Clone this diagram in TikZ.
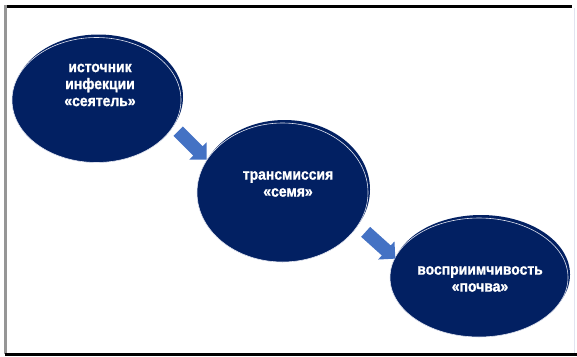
\documentclass[tikz,border=0pt]{standalone}
\usepackage{fontspec}
\setmainfont{Liberation Sans}[FakeStretch=0.9, BoldFeatures={FakeBold=1.2}]
\usepackage{tikz}
\usetikzlibrary{shapes.geometric, shapes.arrows, positioning, calc}
\definecolor{mynavy}{RGB}{2,32,98}
\definecolor{myblue}{RGB}{68,114,196}
\definecolor{myframe}{RGB}{150,150,150}
\definecolor{myedge}{RGB}{225,228,240}
\tikzset{
  stage/.style={ellipse, fill=mynavy, draw=myedge, line width=0.6pt,
    inner sep=0pt},
  stageback/.style={ellipse, fill=mynavy, inner sep=0pt},
  stagetext/.style={text=white, align=center,
    font=\bfseries\fontsize{15.5}{17}\selectfont},
  flow/.style={single arrow, fill=myblue, minimum height=40pt,
    minimum width=24pt, single arrow head extend=5.5pt, inner sep=6.5pt},
  frametop/.style={line width=3pt, color=black},
  frameside/.style={line width=2.5pt, color=myframe}
}

\begin{document}
\begin{tikzpicture}[x=1pt, y=-1pt]
  \useasboundingbox (0,0) rectangle (577,356);

  % frame
  \draw[frametop] (5,6.5) -- (572,6.5);
  \draw[frameside] (5.5,5) -- (5.5,354);
  \draw[frametop] (5,354.5) -- (577,354.5);
  \draw[line width=1pt, color=myedge] (574,8) -- (574,353);

  % back ellipses
  \node[stageback, minimum width=169pt, minimum height=125pt] (source-bk) at (98.5,97) {};
  \node[stageback, minimum width=171pt, minimum height=139pt] (trans-bk) at (284.5,189.5) {};
  \node[stageback, minimum width=178pt, minimum height=119pt] (host-bk) at (481,274.5) {};

  % front ellipses
  \node[stage, minimum width=169pt, minimum height=125pt] (source) at (96.5,100) {};
  \node[stage, minimum width=171pt, minimum height=139pt] (trans) at (282.5,192.5) {};
  \node[stage, minimum width=178pt, minimum height=119pt] (host) at (479,277.5) {};

  \node[stagetext] (source-txt) at (100,85) {источник\\инфекции\\«сеятель»};
  \node[stagetext] (trans-txt) at (288,184) {трансмиссия\\«семя»};
  \node[stagetext] (host-txt) at (480,279) {восприимчивость\\«почва»};

  % arrows
  \node[flow, rotate=-45] (flow1) at (190,143) {};
  \node[flow, rotate=-42] (flow2) at (378,243) {};
\end{tikzpicture}
\end{document}
